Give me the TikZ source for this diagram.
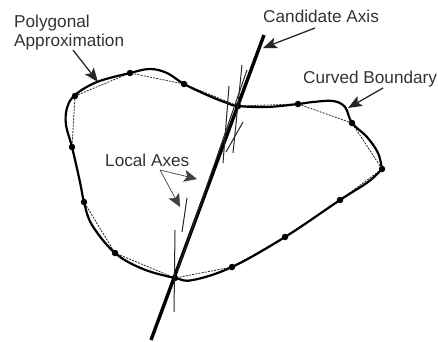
\documentclass[tikz,border=0pt]{standalone}
\usepackage{fontspec}
\setmainfont{Liberation Sans}
\usetikzlibrary{arrows.meta}
\tikzset{
  labeltext/.style={anchor=base west,inner sep=0pt,font=\fontsize{17.2}{19}\selectfont,text=black!80},
  boundary/.style={line width=2.2pt,line join=round,line cap=round},
  polygon/.style={line width=0.8pt,dash pattern=on 2pt off 1.2pt,black!85},
  candidate/.style={line width=3.4pt},
  localaxis/.style={line width=1pt,black!85},
  pointer/.style={line width=1.3pt,black!85,-{Stealth[length=14pt,width=11pt,inset=3pt]}},
  thinpointer/.style={line width=0.7pt,black!75,-{Stealth[length=13pt,width=12pt,inset=3pt]}},
  vertexdot/.style={circle,fill=black,inner sep=0pt,minimum size=6.5pt}
}
\begin{document}
\begin{tikzpicture}[x=1pt,y=-1pt]
\useasboundingbox (0,0) rectangle (438,341);
% labels
\node[labeltext] (polya) at (14,27) {Polygonal};
\node[labeltext] (polyb) at (14,46) {Approximation};
\node[labeltext] (cand) at (263,22) {Candidate Axis};
\node[labeltext] (curved) at (303,83) {Curved Boundary};
\node[labeltext] (local) at (105,166) {Local Axes};
% vertices
\foreach \n/\p in {v1/{(75,96)},v2/{(130,73)},v3/{(184,84)},v4/{(238,106)},v5/{(298,104)},v6/{(352,123)},v7/{(382,169)},v8/{(340,200)},v9/{(285,237)},v10/{(232,267)},v11/{(175,278)},v12/{(115,253)},v13/{(84,202)},v14/{(72,147)}}
  {\node[vertexdot] (\n) at \p {};}
% polygon
\draw[polygon] (v1.center) -- (v2.center) -- (v3.center) -- (v4.center) -- (v5.center) -- (v6.center) -- (v7.center) -- (v8.center) -- (v9.center) -- (v10.center) -- (v11.center) -- (v12.center) -- (v13.center) -- (v14.center) -- cycle;
% curved boundary
\draw[boundary] plot[smooth,tension=0.6] coordinates {
 (382,169) (368,182) (340,200) (285,237) (232,267) (193,280) (175,278) (143,269) (115,253) (92,225) (84,202) (80,182) (72,147) (66,125) (67,108) (75,95) (97,82) (130,73) (150,69) (167,73) (184,84) (207,95) (227,103) (238,106) (267,107) (298,104) (313,102) (333,101) (345,107) (352,123) (367,137) (378,153) (382,169)};
% axes
\coordinate (axtop) at (264,35);
\coordinate (axbot) at (151,340);
\draw[candidate] (axtop) -- (axbot);
\coordinate (a1) at (242,65); \coordinate (a2) at (233,153);
\coordinate (b1) at (229,86); \coordinate (b2) at (223,163);
\coordinate (c1) at (243,122); \coordinate (c2) at (226,152);
\coordinate (d1) at (247,70); \coordinate (d2) at (177,272);
\coordinate (e1) at (187,198); \coordinate (e2) at (182,232);
\coordinate (f1) at (175,230); \coordinate (f2) at (174,312);
\foreach \s/\e in {a1/a2,b1/b2,c1/c2,d1/d2,e1/e2,f1/f2}
  \draw[localaxis] (\s) -- (\e);
% pointers
\coordinate (tipP) at (98,82);
\coordinate (tipC) at (263,48);
\coordinate (tipB) at (348,108);
\coordinate (startP) at (73,50);
\coordinate (startC) at (315,28);
\coordinate (startB) at (383,88);
\coordinate (startL) at (160,170);
\coordinate (tipL1) at (197,179);
\coordinate (tipL2) at (180,207);
\draw[pointer] (startP) -- (tipP);
\draw[pointer] (startC) -- (tipC);
\draw[pointer] (startB) -- (tipB);
\draw[thinpointer] (startL) -- (tipL1);
\draw[thinpointer] (startL) -- (tipL2);
\end{tikzpicture}
\end{document}
